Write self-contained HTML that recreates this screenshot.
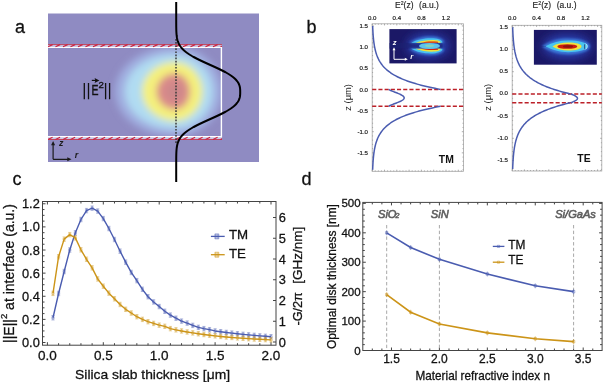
<!DOCTYPE html>
<html><head><meta charset="utf-8"><style>
html,body{margin:0;padding:0;background:#fff;width:603px;height:382px;overflow:hidden}
svg{display:block;will-change:transform}
text{font-family:"Liberation Sans", sans-serif}
text.k{stroke:#111;stroke-width:0.28px}
</style></head><body>
<svg width="603" height="382" viewBox="0 0 603 382">
<defs>
<clipPath id="clipHatch"><rect x="48" y="0" width="174" height="382"/></clipPath>
<clipPath id="clipA"><rect x="48" y="47.2" width="173.4" height="89.7"/></clipPath>
<clipPath id="clipTM"><rect x="389.4" y="29.1" width="67.2" height="34.3"/></clipPath>
<clipPath id="clipTE"><rect x="533.9" y="29.9" width="62.9" height="34.8"/></clipPath>
<filter id="blurA" x="-50%" y="-50%" width="200%" height="200%"><feGaussianBlur stdDeviation="3.5"/></filter>
<filter id="blur1" x="-50%" y="-50%" width="200%" height="200%"><feGaussianBlur stdDeviation="0.5"/></filter>
<filter id="blur4" x="-50%" y="-50%" width="200%" height="200%"><feGaussianBlur stdDeviation="0.75"/></filter>
<filter id="blur3" x="-50%" y="-50%" width="200%" height="200%"><feGaussianBlur stdDeviation="1.2"/></filter>
<filter id="blur2" x="-50%" y="-50%" width="200%" height="200%"><feGaussianBlur stdDeviation="5"/></filter>
</defs>
<rect width="603" height="382" fill="#fff"/>
<text class="k" x="15.0" y="32.8" font-size="18" fill="#111">a</text>
<text class="k" x="306.6" y="32.8" font-size="18" fill="#111">b</text>
<text class="k" x="12.4" y="184.7" font-size="18" fill="#111">c</text>
<text class="k" x="301.6" y="184.6" font-size="18" fill="#111">d</text>
<rect x="48" y="13.5" width="211" height="148.5" fill="#8f8bc2"/>
<g clip-path="url(#clipA)" filter="url(#blurA)"><path d="M175,46.5 A60,45 0 0 0 175,136.5 A47,45 0 0 0 175,46.5 Z" fill="#a0aee0"/><path d="M175,54.0 A50,37.5 0 0 0 175,129.0 A38,37.5 0 0 0 175,54.0 Z" fill="#b0dcf2"/><path d="M175,62.0 A33,29.5 0 0 0 175,121.0 A27.5,29.5 0 0 0 175,62.0 Z" fill="#f4f07c"/><path d="M175,73.5 A18.5,18 0 0 0 175,109.5 A15,18 0 0 0 175,73.5 Z" fill="#da8a8a"/><path d="M175,82.5 A9,9 0 0 0 175,100.5 A8,9 0 0 0 175,82.5 Z" fill="#cc888a"/></g>
<path d="M48,47.4 H221.4 V136.7 H48" fill="none" stroke="#fff" stroke-width="1.4"/>
<rect x="48" y="44.60" width="174" height="2.20" fill="#dfe2f4" opacity="0.7"/>
<line x1="48" y1="44.6" x2="222" y2="44.6" stroke="#c82c40" stroke-width="0.9" opacity="0.9"/>
<path d="M48.0,46.8 L52.6,44.6 M55.5,46.8 L60.1,44.6 M63.0,46.8 L67.6,44.6 M70.5,46.8 L75.1,44.6 M78.0,46.8 L82.6,44.6 M85.5,46.8 L90.1,44.6 M93.0,46.8 L97.6,44.6 M100.5,46.8 L105.1,44.6 M108.0,46.8 L112.6,44.6 M115.5,46.8 L120.1,44.6 M123.0,46.8 L127.6,44.6 M130.5,46.8 L135.1,44.6 M138.0,46.8 L142.6,44.6 M145.5,46.8 L150.1,44.6 M153.0,46.8 L157.6,44.6 M160.5,46.8 L165.1,44.6 M168.0,46.8 L172.6,44.6 M175.5,46.8 L180.1,44.6 M183.0,46.8 L187.6,44.6 M190.5,46.8 L195.1,44.6 M198.0,46.8 L202.6,44.6 M205.5,46.8 L210.1,44.6 M213.0,46.8 L217.6,44.6 M220.5,46.8 L225.1,44.6 " stroke="#cc2440" stroke-width="1.2" fill="none" clip-path="url(#clipHatch)"/>
<rect x="48" y="137.30" width="174" height="2.20" fill="#dfe2f4" opacity="0.7"/>
<line x1="48" y1="139.5" x2="222" y2="139.5" stroke="#c82c40" stroke-width="0.9" opacity="0.9"/>
<path d="M48.0,139.5 L52.6,137.3 M55.5,139.5 L60.1,137.3 M63.0,139.5 L67.6,137.3 M70.5,139.5 L75.1,137.3 M78.0,139.5 L82.6,137.3 M85.5,139.5 L90.1,137.3 M93.0,139.5 L97.6,137.3 M100.5,139.5 L105.1,137.3 M108.0,139.5 L112.6,137.3 M115.5,139.5 L120.1,137.3 M123.0,139.5 L127.6,137.3 M130.5,139.5 L135.1,137.3 M138.0,139.5 L142.6,137.3 M145.5,139.5 L150.1,137.3 M153.0,139.5 L157.6,137.3 M160.5,139.5 L165.1,137.3 M168.0,139.5 L172.6,137.3 M175.5,139.5 L180.1,137.3 M183.0,139.5 L187.6,137.3 M190.5,139.5 L195.1,137.3 M198.0,139.5 L202.6,137.3 M205.5,139.5 L210.1,137.3 M213.0,139.5 L217.6,137.3 M220.5,139.5 L225.1,137.3 " stroke="#cc2440" stroke-width="1.2" fill="none" clip-path="url(#clipHatch)"/>
<line x1="176" y1="39" x2="176" y2="144" stroke="#3a3a3a" stroke-width="1.5" stroke-dasharray="1.7,1.4"/>
<path d="M176.20,2.00 L176.20,3.00 L176.20,4.00 L176.20,5.00 L176.20,6.00 L176.20,7.00 L176.20,8.00 L176.20,9.00 L176.20,10.00 L176.20,11.00 L176.20,12.00 L176.20,13.00 L176.20,14.00 L176.20,15.00 L176.20,16.00 L176.20,17.00 L176.20,18.00 L176.20,19.00 L176.20,20.00 L176.21,21.00 L176.21,22.00 L176.21,23.00 L176.22,24.00 L176.22,25.00 L176.23,26.00 L176.24,27.00 L176.26,28.00 L176.28,29.00 L176.30,30.00 L176.34,31.00 L176.38,32.00 L176.44,33.00 L176.51,34.00 L176.60,35.00 L176.71,36.00 L176.85,37.00 L177.01,38.00 L177.22,39.00 L177.46,40.00 L177.75,41.00 L178.09,42.00 L178.50,43.00 L178.97,44.00 L179.52,45.00 L180.14,46.00 L180.86,47.00 L181.66,48.00 L182.57,49.00 L183.58,50.00 L184.70,51.00 L185.92,52.00 L187.26,53.00 L188.71,54.00 L190.27,55.00 L191.94,56.00 L193.70,57.00 L195.56,58.00 L197.51,59.00 L199.54,60.00 L201.63,61.00 L203.77,62.00 L205.96,63.00 L208.17,64.00 L210.39,65.00 L212.61,66.00 L214.81,67.00 L216.98,68.00 L219.09,69.00 L221.15,70.00 L223.13,71.00 L225.03,72.00 L226.83,73.00 L228.52,74.00 L230.11,75.00 L231.57,76.00 L232.91,77.00 L234.13,78.00 L235.22,79.00 L236.19,80.00 L237.03,81.00 L237.76,82.00 L238.38,83.00 L238.88,84.00 L239.29,85.00 L239.61,86.00 L239.84,87.00 L240.01,88.00 L240.11,89.00 L240.17,90.00 L240.20,91.00 L240.20,92.00 L240.20,93.00 L240.17,94.00 L240.11,95.00 L240.01,96.00 L239.84,97.00 L239.61,98.00 L239.29,99.00 L238.88,100.00 L238.38,101.00 L237.76,102.00 L237.03,103.00 L236.19,104.00 L235.22,105.00 L234.13,106.00 L232.91,107.00 L231.57,108.00 L230.11,109.00 L228.52,110.00 L226.83,111.00 L225.03,112.00 L223.13,113.00 L221.15,114.00 L219.09,115.00 L216.98,116.00 L214.81,117.00 L212.61,118.00 L210.39,119.00 L208.17,120.00 L205.96,121.00 L203.77,122.00 L201.63,123.00 L199.54,124.00 L197.51,125.00 L195.56,126.00 L193.70,127.00 L191.94,128.00 L190.27,129.00 L188.71,130.00 L187.26,131.00 L185.92,132.00 L184.70,133.00 L183.58,134.00 L182.57,135.00 L181.66,136.00 L180.86,137.00 L180.14,138.00 L179.52,139.00 L178.97,140.00 L178.50,141.00 L178.09,142.00 L177.75,143.00 L177.46,144.00 L177.22,145.00 L177.01,146.00 L176.85,147.00 L176.71,148.00 L176.60,149.00 L176.51,150.00 L176.44,151.00 L176.38,152.00 L176.34,153.00 L176.30,154.00 L176.28,155.00 L176.26,156.00 L176.24,157.00 L176.23,158.00 L176.22,159.00 L176.22,160.00 L176.21,161.00 L176.21,162.00 L176.21,163.00 L176.20,164.00 L176.20,165.00 L176.20,166.00 L176.20,167.00 L176.20,168.00 L176.20,169.00 L176.20,170.00 L176.20,171.00 L176.20,172.00 L176.20,173.00 L176.20,174.00 L176.20,175.00 L176.20,176.00 L176.20,177.00 L176.20,178.00 L176.20,179.00 L176.20,180.00 L176.20,181.00 L176.20,182.00" fill="none" stroke="#000" stroke-width="2"/>
<path d="M84.3,82.9 V99.2 M88.5,82.9 V99.2 M105.6,82.9 V99.2 M109.6,82.9 V99.2" stroke="#111" stroke-width="1.3"/>
<text x="91.4" y="95.1" font-size="14.8" textLength="7" lengthAdjust="spacingAndGlyphs" fill="#111" stroke="#111" stroke-width="0.45">E</text>
<text x="98.5" y="87.8" font-size="9.6" fill="#111" stroke="#111" stroke-width="0.35">2</text>
<path d="M91.8,80.4 H96" stroke="#111" stroke-width="1.2"/><path d="M99.4,80.4 L94.6,77.9 L95.4,80.4 L94.6,82.9 Z" fill="#111"/>
<path d="M53.1,159.3 V143.5 M53.1,159.3 H68.5" stroke="#1a1a1a" stroke-width="1.2" fill="none"/>
<path d="M53.1,141.0 L51.1,145.2 L55.1,145.2 Z M71.5,159.3 L67.3,157.3 L67.3,161.3 Z" fill="#1a1a1a"/>
<text x="58.9" y="146.2" font-size="8.8" font-style="italic" font-weight="bold" fill="#1a1a1a">z</text>
<text x="74.8" y="157.9" font-size="8.8" font-style="italic" font-weight="bold" fill="#1a1a1a">r</text>
<rect x="372.2" y="23.8" width="91.19999999999999" height="147.5" fill="none" stroke="#a4a4a4" stroke-width="0.8"/>
<path d="M372.20,23.8 v1.6 M372.20,171.3 v-1.6 M375.27,23.8 v0.9 M375.27,171.3 v-0.9 M378.35,23.8 v0.9 M378.35,171.3 v-0.9 M381.43,23.8 v0.9 M381.43,171.3 v-0.9 M384.50,23.8 v1.6 M384.50,171.3 v-1.6 M387.57,23.8 v0.9 M387.57,171.3 v-0.9 M390.65,23.8 v0.9 M390.65,171.3 v-0.9 M393.72,23.8 v0.9 M393.72,171.3 v-0.9 M396.80,23.8 v1.6 M396.80,171.3 v-1.6 M399.88,23.8 v0.9 M399.88,171.3 v-0.9 M402.95,23.8 v0.9 M402.95,171.3 v-0.9 M406.02,23.8 v0.9 M406.02,171.3 v-0.9 M409.10,23.8 v1.6 M409.10,171.3 v-1.6 M412.18,23.8 v0.9 M412.18,171.3 v-0.9 M415.25,23.8 v0.9 M415.25,171.3 v-0.9 M418.32,23.8 v0.9 M418.32,171.3 v-0.9 M421.40,23.8 v1.6 M421.40,171.3 v-1.6 M424.48,23.8 v0.9 M424.48,171.3 v-0.9 M427.55,23.8 v0.9 M427.55,171.3 v-0.9 M430.62,23.8 v0.9 M430.62,171.3 v-0.9 M433.70,23.8 v1.6 M433.70,171.3 v-1.6 M436.77,23.8 v0.9 M436.77,171.3 v-0.9 M439.85,23.8 v0.9 M439.85,171.3 v-0.9 M442.93,23.8 v0.9 M442.93,171.3 v-0.9 M446.00,23.8 v1.6 M446.00,171.3 v-1.6 M449.08,23.8 v0.9 M449.08,171.3 v-0.9 M452.15,23.8 v0.9 M452.15,171.3 v-0.9 M455.23,23.8 v0.9 M455.23,171.3 v-0.9 M458.30,23.8 v1.6 M458.30,171.3 v-1.6 M461.38,23.8 v0.9 M461.38,171.3 v-0.9 M372.2,169.77 h0.9 M463.4,169.77 h-0.9 M372.2,165.54 h0.9 M463.4,165.54 h-0.9 M372.2,161.31 h0.9 M463.4,161.31 h-0.9 M372.2,157.08 h0.9 M463.4,157.08 h-0.9 M372.2,152.85 h1.6 M463.4,152.85 h-1.6 M372.2,148.62 h0.9 M463.4,148.62 h-0.9 M372.2,144.39 h0.9 M463.4,144.39 h-0.9 M372.2,140.16 h0.9 M463.4,140.16 h-0.9 M372.2,135.93 h0.9 M463.4,135.93 h-0.9 M372.2,131.70 h1.6 M463.4,131.70 h-1.6 M372.2,127.47 h0.9 M463.4,127.47 h-0.9 M372.2,123.24 h0.9 M463.4,123.24 h-0.9 M372.2,119.01 h0.9 M463.4,119.01 h-0.9 M372.2,114.78 h0.9 M463.4,114.78 h-0.9 M372.2,110.55 h1.6 M463.4,110.55 h-1.6 M372.2,106.32 h0.9 M463.4,106.32 h-0.9 M372.2,102.09 h0.9 M463.4,102.09 h-0.9 M372.2,97.86 h0.9 M463.4,97.86 h-0.9 M372.2,93.63 h0.9 M463.4,93.63 h-0.9 M372.2,89.40 h1.6 M463.4,89.40 h-1.6 M372.2,85.17 h0.9 M463.4,85.17 h-0.9 M372.2,80.94 h0.9 M463.4,80.94 h-0.9 M372.2,76.71 h0.9 M463.4,76.71 h-0.9 M372.2,72.48 h0.9 M463.4,72.48 h-0.9 M372.2,68.25 h1.6 M463.4,68.25 h-1.6 M372.2,64.02 h0.9 M463.4,64.02 h-0.9 M372.2,59.79 h0.9 M463.4,59.79 h-0.9 M372.2,55.56 h0.9 M463.4,55.56 h-0.9 M372.2,51.33 h0.9 M463.4,51.33 h-0.9 M372.2,47.10 h1.6 M463.4,47.10 h-1.6 M372.2,42.87 h0.9 M463.4,42.87 h-0.9 M372.2,38.64 h0.9 M463.4,38.64 h-0.9 M372.2,34.41 h0.9 M463.4,34.41 h-0.9 M372.2,30.18 h0.9 M463.4,30.18 h-0.9 M372.2,25.95 h1.6 M463.4,25.95 h-1.6 " stroke="#8a8a8a" stroke-width="0.7" fill="none"/>
<text x="372.20" y="19.9" font-size="6.1" text-anchor="middle" fill="#222" stroke="#222" stroke-width="0.2">0.0</text>
<text x="396.80" y="19.9" font-size="6.1" text-anchor="middle" fill="#222" stroke="#222" stroke-width="0.2">0.4</text>
<text x="421.40" y="19.9" font-size="6.1" text-anchor="middle" fill="#222" stroke="#222" stroke-width="0.2">0.8</text>
<text x="446.00" y="19.9" font-size="6.1" text-anchor="middle" fill="#222" stroke="#222" stroke-width="0.2">1.2</text>
<text x="368.00" y="28.15" font-size="6.1" text-anchor="end" fill="#222" stroke="#222" stroke-width="0.2">1.5</text>
<text x="368.00" y="49.30" font-size="6.1" text-anchor="end" fill="#222" stroke="#222" stroke-width="0.2">1.0</text>
<text x="368.00" y="70.45" font-size="6.1" text-anchor="end" fill="#222" stroke="#222" stroke-width="0.2">0.5</text>
<text x="368.00" y="91.60" font-size="6.1" text-anchor="end" fill="#222" stroke="#222" stroke-width="0.2">0.0</text>
<text x="368.00" y="112.75" font-size="6.1" text-anchor="end" fill="#222" stroke="#222" stroke-width="0.2">-0.5</text>
<text x="368.00" y="133.90" font-size="6.1" text-anchor="end" fill="#222" stroke="#222" stroke-width="0.2">-1.0</text>
<text x="368.00" y="155.05" font-size="6.1" text-anchor="end" fill="#222" stroke="#222" stroke-width="0.2">-1.5</text>
<text x="395.0" y="8.0" font-size="8.5" fill="#222" stroke="#222" stroke-width="0.15">E<tspan font-size="5.2" dy="-3.3">2</tspan><tspan dy="3.3">(z)</tspan><tspan dx="5.6">(a.u.)</tspan></text>
<text transform="translate(347.8,97.4) rotate(-90)" x="0" y="3.2" font-size="9.4" text-anchor="middle" fill="#222">z (μm)</text>
<g>
<rect x="389.4" y="29.1" width="67.2" height="34.3" fill="#1b1866"/>
<g clip-path="url(#clipTM)">
<ellipse cx="428" cy="45.8" rx="21" ry="12" fill="#2c40b0" filter="url(#blur2)"/>
<rect x="380" y="43" width="62.5" height="5.6" fill="#1c2272" opacity="0.6" filter="url(#blur1)"/>
<g filter="url(#blur1)">
<path d="M409,42.8 C416,37.5 426,36.0 433,36.5 C440,37.0 445,40.0 444,42.8 Z" fill="#3a78d8" filter="url(#blur3)"/>
<path d="M411.3,42.8 C417,39.2 426,37.8 433,38.2 C439,38.6 443,40.5 442.3,42.8 Z" fill="#48c4f0"/>
<path d="M415.5,42.8 C421,40.6 428,39.8 434,40.0 C438.5,40.3 440.8,41.3 440.6,42.8 Z" fill="#f0e23c"/>
<path d="M420.7,42.8 C426,41.4 432,41.2 437.8,41.8 L438.2,42.8 Z" fill="#d42010"/>
<path d="M409,48.8 C416,54.1 426,55.6 433,55.1 C440,54.6 445,51.6 444,48.8 Z" fill="#3a78d8" filter="url(#blur3)"/>
<path d="M411.3,48.8 C417,52.4 426,53.8 433,53.4 C439,53.0 443,51.1 442.3,48.8 Z" fill="#48c4f0"/>
<path d="M415.5,48.8 C421,51.0 428,51.8 434,51.6 C438.5,51.3 440.8,50.3 440.6,48.8 Z" fill="#f0e23c"/>
<path d="M420.7,48.8 C426,50.2 432,50.4 437.8,49.8 L438.2,48.8 Z" fill="#d42010"/>
<ellipse cx="429.5" cy="45.9" rx="10.5" ry="3.0" fill="#5cc4ec"/>
<ellipse cx="429.5" cy="45.8" rx="4.5" ry="1.4" fill="#88d4b8"/>
</g></g>
<text x="392.8" y="44.6" font-size="7.6" font-style="italic" font-weight="bold" fill="#fff">z</text>
<path d="M394,59.3 V49.2 M394,59.3 H405.6" stroke="#fff" stroke-width="1" fill="none"/>
<path d="M394,47.2 L392.5,50.2 L395.5,50.2 Z M407.8,59.3 L404.8,57.8 L404.8,60.8 Z" fill="#fff"/>
<text x="410.2" y="59.2" font-size="7.6" font-style="italic" font-weight="bold" fill="#fff">r</text>
</g>
<line x1="372.2" y1="89.40" x2="463.4" y2="89.40" stroke="#bc2028" stroke-width="1.5" stroke-dasharray="4.1,2.1"/>
<line x1="372.2" y1="106.32" x2="463.4" y2="106.32" stroke="#bc2028" stroke-width="1.5" stroke-dasharray="4.1,2.1"/>
<path d="M372.66,25.95 L372.68,26.48 L372.70,27.01 L372.72,27.54 L372.74,28.07 L372.77,28.59 L372.79,29.12 L372.82,29.65 L372.84,30.18 L372.87,30.71 L372.90,31.24 L372.93,31.77 L372.96,32.30 L372.99,32.82 L373.02,33.35 L373.06,33.88 L373.10,34.41 L373.13,34.94 L373.17,35.47 L373.22,36.00 L373.26,36.53 L373.30,37.05 L373.35,37.58 L373.40,38.11 L373.45,38.64 L373.50,39.17 L373.56,39.70 L373.62,40.23 L373.68,40.76 L373.74,41.28 L373.81,41.81 L373.87,42.34 L373.94,42.87 L374.02,43.40 L374.10,43.93 L374.18,44.46 L374.26,44.99 L374.35,45.51 L374.44,46.04 L374.54,46.57 L374.64,47.10 L374.74,47.63 L374.85,48.16 L374.96,48.69 L375.08,49.22 L375.20,49.74 L375.33,50.27 L375.46,50.80 L375.60,51.33 L375.74,51.86 L375.89,52.39 L376.05,52.92 L376.22,53.45 L376.39,53.97 L376.56,54.50 L376.75,55.03 L376.94,55.56 L377.15,56.09 L377.36,56.62 L377.57,57.15 L377.80,57.68 L378.04,58.20 L378.29,58.73 L378.55,59.26 L378.82,59.79 L379.10,60.32 L379.40,60.85 L379.70,61.38 L380.02,61.91 L380.35,62.43 L380.70,62.96 L381.06,63.49 L381.44,64.02 L381.83,64.55 L382.24,65.08 L382.67,65.61 L383.11,66.14 L383.58,66.66 L384.06,67.19 L384.57,67.72 L385.09,68.25 L385.64,68.78 L386.21,69.31 L386.81,69.84 L387.43,70.37 L388.08,70.89 L388.76,71.42 L389.46,71.95 L390.19,72.48 L390.96,73.01 L391.76,73.54 L392.59,74.07 L393.46,74.59 L394.36,75.12 L395.31,75.65 L396.29,76.18 L397.31,76.71 L398.38,77.24 L399.50,77.77 L400.66,78.30 L401.87,78.83 L403.13,79.35 L404.45,79.88 L405.82,80.41 L407.25,80.94 L408.74,81.47 L410.29,82.00 L411.92,82.53 L413.60,83.06 L415.37,83.58 L417.20,84.11 L419.12,84.64 L421.11,85.17 L423.20,85.70 L425.36,86.23 L427.63,86.76 L429.99,87.29 L432.44,87.81 L435.01,88.34 L437.68,88.87 L440.46,89.40" fill="none" stroke="#4a5cb0" stroke-width="1.5"/>
<path d="M388.81,89.40 L389.14,89.68 L389.62,89.96 L390.18,90.25 L390.80,90.53 L391.46,90.81 L392.15,91.09 L392.85,91.37 L393.58,91.66 L394.31,91.94 L395.05,92.22 L395.78,92.50 L396.51,92.78 L397.23,93.07 L397.92,93.35 L398.60,93.63 L399.26,93.91 L399.88,94.19 L400.48,94.48 L401.04,94.76 L401.56,95.04 L402.04,95.32 L402.47,95.60 L402.87,95.89 L403.21,96.17 L403.50,96.45 L403.74,96.73 L403.93,97.01 L404.07,97.30 L404.15,97.58 L404.18,97.86 L404.15,98.14 L404.07,98.42 L403.93,98.71 L403.74,98.99 L403.50,99.27 L403.21,99.55 L402.87,99.83 L402.47,100.12 L402.04,100.40 L401.56,100.68 L401.04,100.96 L400.48,101.24 L399.88,101.53 L399.26,101.81 L398.60,102.09 L397.92,102.37 L397.23,102.65 L396.51,102.94 L395.78,103.22 L395.05,103.50 L394.31,103.78 L393.58,104.06 L392.85,104.35 L392.15,104.63 L391.46,104.91 L390.80,105.19 L390.18,105.47 L389.62,105.76 L389.14,106.04 L388.81,106.32" fill="none" stroke="#4a5cb0" stroke-width="1.5"/>
<path d="M440.46,106.32 L437.68,106.85 L435.01,107.38 L432.44,107.91 L429.99,108.44 L427.63,108.96 L425.36,109.49 L423.20,110.02 L421.11,110.55 L419.12,111.08 L417.20,111.61 L415.37,112.14 L413.60,112.67 L411.92,113.19 L410.29,113.72 L408.74,114.25 L407.25,114.78 L405.82,115.31 L404.45,115.84 L403.13,116.37 L401.87,116.90 L400.66,117.42 L399.50,117.95 L398.38,118.48 L397.31,119.01 L396.29,119.54 L395.31,120.07 L394.36,120.60 L393.46,121.12 L392.59,121.65 L391.76,122.18 L390.96,122.71 L390.19,123.24 L389.46,123.77 L388.76,124.30 L388.08,124.83 L387.43,125.36 L386.81,125.88 L386.21,126.41 L385.64,126.94 L385.09,127.47 L384.57,128.00 L384.06,128.53 L383.58,129.06 L383.11,129.59 L382.67,130.11 L382.24,130.64 L381.83,131.17 L381.44,131.70 L381.06,132.23 L380.70,132.76 L380.35,133.29 L380.02,133.81 L379.70,134.34 L379.40,134.87 L379.10,135.40 L378.82,135.93 L378.55,136.46 L378.29,136.99 L378.04,137.52 L377.80,138.05 L377.57,138.57 L377.36,139.10 L377.15,139.63 L376.94,140.16 L376.75,140.69 L376.56,141.22 L376.39,141.75 L376.22,142.28 L376.05,142.80 L375.89,143.33 L375.74,143.86 L375.60,144.39 L375.46,144.92 L375.33,145.45 L375.20,145.98 L375.08,146.50 L374.96,147.03 L374.85,147.56 L374.74,148.09 L374.64,148.62 L374.54,149.15 L374.44,149.68 L374.35,150.21 L374.26,150.74 L374.18,151.26 L374.10,151.79 L374.02,152.32 L373.94,152.85 L373.87,153.38 L373.81,153.91 L373.74,154.44 L373.68,154.96 L373.62,155.49 L373.56,156.02 L373.50,156.55 L373.45,157.08 L373.40,157.61 L373.35,158.14 L373.30,158.67 L373.26,159.19 L373.22,159.72 L373.17,160.25 L373.13,160.78 L373.10,161.31 L373.06,161.84 L373.02,162.37 L372.99,162.90 L372.96,163.43 L372.93,163.95 L372.90,164.48 L372.87,165.01 L372.84,165.54 L372.82,166.07 L372.79,166.60 L372.77,167.13 L372.74,167.66 L372.72,168.18 L372.70,168.71 L372.68,169.24 L372.66,169.77" fill="none" stroke="#4a5cb0" stroke-width="1.5"/>
<text x="446.3" y="162.8" font-size="10.4" font-weight="bold" text-anchor="middle" fill="#111">TM</text>
<rect x="512.2" y="25.3" width="89.59999999999991" height="145.7" fill="none" stroke="#a4a4a4" stroke-width="0.8"/>
<path d="M512.20,25.3 v1.6 M512.20,171.0 v-1.6 M515.25,25.3 v0.9 M515.25,171.0 v-0.9 M518.30,25.3 v0.9 M518.30,171.0 v-0.9 M521.35,25.3 v0.9 M521.35,171.0 v-0.9 M524.40,25.3 v1.6 M524.40,171.0 v-1.6 M527.45,25.3 v0.9 M527.45,171.0 v-0.9 M530.50,25.3 v0.9 M530.50,171.0 v-0.9 M533.55,25.3 v0.9 M533.55,171.0 v-0.9 M536.60,25.3 v1.6 M536.60,171.0 v-1.6 M539.65,25.3 v0.9 M539.65,171.0 v-0.9 M542.70,25.3 v0.9 M542.70,171.0 v-0.9 M545.75,25.3 v0.9 M545.75,171.0 v-0.9 M548.80,25.3 v1.6 M548.80,171.0 v-1.6 M551.85,25.3 v0.9 M551.85,171.0 v-0.9 M554.90,25.3 v0.9 M554.90,171.0 v-0.9 M557.95,25.3 v0.9 M557.95,171.0 v-0.9 M561.00,25.3 v1.6 M561.00,171.0 v-1.6 M564.05,25.3 v0.9 M564.05,171.0 v-0.9 M567.10,25.3 v0.9 M567.10,171.0 v-0.9 M570.15,25.3 v0.9 M570.15,171.0 v-0.9 M573.20,25.3 v1.6 M573.20,171.0 v-1.6 M576.25,25.3 v0.9 M576.25,171.0 v-0.9 M579.30,25.3 v0.9 M579.30,171.0 v-0.9 M582.35,25.3 v0.9 M582.35,171.0 v-0.9 M585.40,25.3 v1.6 M585.40,171.0 v-1.6 M588.45,25.3 v0.9 M588.45,171.0 v-0.9 M591.50,25.3 v0.9 M591.50,171.0 v-0.9 M594.55,25.3 v0.9 M594.55,171.0 v-0.9 M597.60,25.3 v1.6 M597.60,171.0 v-1.6 M600.65,25.3 v0.9 M600.65,171.0 v-0.9 M512.2,169.38 h0.9 M601.8,169.38 h-0.9 M512.2,164.94 h0.9 M601.8,164.94 h-0.9 M512.2,160.50 h1.6 M601.8,160.50 h-1.6 M512.2,156.06 h0.9 M601.8,156.06 h-0.9 M512.2,151.62 h0.9 M601.8,151.62 h-0.9 M512.2,147.18 h0.9 M601.8,147.18 h-0.9 M512.2,142.74 h0.9 M601.8,142.74 h-0.9 M512.2,138.30 h1.6 M601.8,138.30 h-1.6 M512.2,133.86 h0.9 M601.8,133.86 h-0.9 M512.2,129.42 h0.9 M601.8,129.42 h-0.9 M512.2,124.98 h0.9 M601.8,124.98 h-0.9 M512.2,120.54 h0.9 M601.8,120.54 h-0.9 M512.2,116.10 h1.6 M601.8,116.10 h-1.6 M512.2,111.66 h0.9 M601.8,111.66 h-0.9 M512.2,107.22 h0.9 M601.8,107.22 h-0.9 M512.2,102.78 h0.9 M601.8,102.78 h-0.9 M512.2,98.34 h0.9 M601.8,98.34 h-0.9 M512.2,93.90 h1.6 M601.8,93.90 h-1.6 M512.2,89.46 h0.9 M601.8,89.46 h-0.9 M512.2,85.02 h0.9 M601.8,85.02 h-0.9 M512.2,80.58 h0.9 M601.8,80.58 h-0.9 M512.2,76.14 h0.9 M601.8,76.14 h-0.9 M512.2,71.70 h1.6 M601.8,71.70 h-1.6 M512.2,67.26 h0.9 M601.8,67.26 h-0.9 M512.2,62.82 h0.9 M601.8,62.82 h-0.9 M512.2,58.38 h0.9 M601.8,58.38 h-0.9 M512.2,53.94 h0.9 M601.8,53.94 h-0.9 M512.2,49.50 h1.6 M601.8,49.50 h-1.6 M512.2,45.06 h0.9 M601.8,45.06 h-0.9 M512.2,40.62 h0.9 M601.8,40.62 h-0.9 M512.2,36.18 h0.9 M601.8,36.18 h-0.9 M512.2,31.74 h0.9 M601.8,31.74 h-0.9 M512.2,27.30 h1.6 M601.8,27.30 h-1.6 " stroke="#8a8a8a" stroke-width="0.7" fill="none"/>
<text x="512.20" y="19.9" font-size="6.1" text-anchor="middle" fill="#222" stroke="#222" stroke-width="0.2">0.0</text>
<text x="536.60" y="19.9" font-size="6.1" text-anchor="middle" fill="#222" stroke="#222" stroke-width="0.2">0.4</text>
<text x="561.00" y="19.9" font-size="6.1" text-anchor="middle" fill="#222" stroke="#222" stroke-width="0.2">0.8</text>
<text x="585.40" y="19.9" font-size="6.1" text-anchor="middle" fill="#222" stroke="#222" stroke-width="0.2">1.2</text>
<text x="508.00" y="28.80" font-size="6.1" text-anchor="end" fill="#222" stroke="#222" stroke-width="0.2">1.5</text>
<text x="508.00" y="51.00" font-size="6.1" text-anchor="end" fill="#222" stroke="#222" stroke-width="0.2">1.0</text>
<text x="508.00" y="73.20" font-size="6.1" text-anchor="end" fill="#222" stroke="#222" stroke-width="0.2">0.5</text>
<text x="508.00" y="95.40" font-size="6.1" text-anchor="end" fill="#222" stroke="#222" stroke-width="0.2">0.0</text>
<text x="508.00" y="117.60" font-size="6.1" text-anchor="end" fill="#222" stroke="#222" stroke-width="0.2">-0.5</text>
<text x="508.00" y="139.80" font-size="6.1" text-anchor="end" fill="#222" stroke="#222" stroke-width="0.2">-1.0</text>
<text x="508.00" y="162.00" font-size="6.1" text-anchor="end" fill="#222" stroke="#222" stroke-width="0.2">-1.5</text>
<text x="532.6" y="8.0" font-size="8.5" fill="#222" stroke="#222" stroke-width="0.15">E<tspan font-size="5.2" dy="-3.3">2</tspan><tspan dy="3.3">(z)</tspan><tspan dx="5.6">(a.u.)</tspan></text>
<text transform="translate(488.0,97.3) rotate(-90)" x="0" y="3.2" font-size="9.4" text-anchor="middle" fill="#222">z (μm)</text>
<g>
<rect x="533.9" y="29.9" width="62.9" height="34.8" fill="#1b1866"/>
<g clip-path="url(#clipTE)">
<ellipse cx="567" cy="46.4" rx="24" ry="12" fill="#2c40b0" filter="url(#blur2)"/>
<path d="M542,46.3 C550,40 560,38.4 568,38.4 C580,38.4 590,41.5 590,46.3 C590,51 580,54.4 568,54.4 C560,54.4 550,52.6 542,46.3 Z" fill="#3a78d8" filter="url(#blur3)"/>
<g filter="url(#blur4)">
<path d="M533.9,46.3 H546" stroke="#1a2070" stroke-width="0.6" opacity="0.6"/>
<path d="M545.6,46.3 C552,42.5 560,40.6 568,40.6 C578,40.6 587.6,42.5 587.6,46.3 C587.6,50 578,52.2 568,52.2 C560,52.2 552,50 545.6,46.3 Z" fill="#48c4f0"/>
<path d="M552.5,46.4 C556.5,43.6 562,42.5 568,42.5 C576,42.5 581.5,44.2 581.5,46.4 C581.5,48.8 576,50.5 568,50.5 C562,50.5 556.5,49.2 552.5,46.4 Z" fill="#f0e23c"/>
<ellipse cx="567.3" cy="46.5" rx="10" ry="2.3" fill="#cc1a10"/>
<ellipse cx="568" cy="46.5" rx="5" ry="1.2" fill="#8a1410"/>
<path d="M585.6,43.6 C587.6,44.5 587.6,48.3 585.6,49.2" stroke="#d0f0ff" stroke-width="0.9" fill="none"/><path d="M584.6,44.3 V48.9" stroke="#303068" stroke-width="0.8"/>
</g></g></g>
<line x1="512.2" y1="93.90" x2="601.8" y2="93.90" stroke="#bc2028" stroke-width="1.5" stroke-dasharray="4.1,2.1"/>
<line x1="512.2" y1="102.78" x2="601.8" y2="102.78" stroke="#bc2028" stroke-width="1.5" stroke-dasharray="4.1,2.1"/>
<path d="M512.66,27.30 L512.68,27.86 L512.70,28.41 L512.72,28.97 L512.74,29.52 L512.76,30.08 L512.78,30.63 L512.81,31.19 L512.83,31.74 L512.86,32.30 L512.89,32.85 L512.91,33.41 L512.94,33.96 L512.97,34.52 L513.01,35.07 L513.04,35.63 L513.07,36.18 L513.11,36.74 L513.15,37.29 L513.19,37.85 L513.23,38.40 L513.27,38.96 L513.31,39.51 L513.36,40.07 L513.41,40.62 L513.46,41.18 L513.51,41.73 L513.56,42.29 L513.62,42.84 L513.68,43.40 L513.74,43.95 L513.80,44.51 L513.87,45.06 L513.94,45.62 L514.01,46.17 L514.08,46.73 L514.16,47.28 L514.24,47.84 L514.32,48.39 L514.41,48.95 L514.50,49.50 L514.60,50.06 L514.70,50.61 L514.80,51.17 L514.90,51.72 L515.02,52.28 L515.13,52.83 L515.25,53.39 L515.38,53.94 L515.51,54.50 L515.65,55.05 L515.79,55.61 L515.93,56.16 L516.09,56.72 L516.25,57.27 L516.41,57.83 L516.59,58.38 L516.77,58.94 L516.96,59.49 L517.15,60.05 L517.36,60.60 L517.57,61.16 L517.79,61.71 L518.02,62.27 L518.26,62.82 L518.51,63.38 L518.77,63.93 L519.04,64.49 L519.32,65.04 L519.61,65.60 L519.92,66.15 L520.23,66.71 L520.57,67.26 L520.91,67.81 L521.27,68.37 L521.64,68.93 L522.03,69.48 L522.43,70.04 L522.86,70.59 L523.29,71.15 L523.75,71.70 L524.23,72.26 L524.72,72.81 L525.24,73.37 L525.77,73.92 L526.33,74.48 L526.91,75.03 L527.52,75.59 L528.15,76.14 L528.80,76.70 L529.49,77.25 L530.20,77.81 L530.94,78.36 L531.71,78.92 L532.51,79.47 L533.35,80.03 L534.22,80.58 L535.12,81.14 L536.07,81.69 L537.05,82.25 L538.07,82.80 L539.14,83.36 L540.24,83.91 L541.40,84.47 L542.60,85.02 L543.85,85.58 L545.15,86.13 L546.51,86.69 L547.92,87.24 L549.39,87.80 L550.92,88.35 L552.51,88.91 L554.17,89.46 L555.90,90.02 L557.70,90.57 L559.57,91.12 L561.52,91.68 L563.55,92.23 L565.66,92.79 L567.86,93.35 L570.15,93.90" fill="none" stroke="#4a5cb0" stroke-width="1.5"/>
<path d="M570.72,93.90 L571.45,94.20 L572.16,94.49 L572.84,94.79 L573.51,95.08 L574.14,95.38 L574.73,95.68 L575.27,95.97 L575.77,96.27 L576.20,96.56 L576.58,96.86 L576.90,97.16 L577.15,97.45 L577.33,97.75 L577.43,98.04 L577.47,98.34 L577.43,98.64 L577.33,98.93 L577.15,99.23 L576.90,99.52 L576.58,99.82 L576.20,100.12 L575.77,100.41 L575.27,100.71 L574.73,101.00 L574.14,101.30 L573.51,101.60 L572.84,101.89 L572.16,102.19 L571.45,102.48 L570.72,102.78" fill="none" stroke="#4a5cb0" stroke-width="1.5"/>
<path d="M570.15,102.78 L567.87,103.33 L565.69,103.88 L563.59,104.43 L561.57,104.99 L559.63,105.54 L557.77,106.09 L555.98,106.64 L554.26,107.19 L552.61,107.74 L551.02,108.29 L549.50,108.84 L548.04,109.40 L546.63,109.95 L545.28,110.50 L543.98,111.05 L542.73,111.60 L541.53,112.15 L540.38,112.70 L539.27,113.25 L538.21,113.81 L537.19,114.36 L536.21,114.91 L535.27,115.46 L534.36,116.01 L533.49,116.56 L532.65,117.11 L531.85,117.67 L531.08,118.22 L530.34,118.77 L529.63,119.32 L528.94,119.87 L528.28,120.42 L527.65,120.97 L527.05,121.52 L526.46,122.08 L525.90,122.63 L525.37,123.18 L524.85,123.73 L524.35,124.28 L523.87,124.83 L523.42,125.38 L522.98,125.93 L522.55,126.49 L522.15,127.04 L521.76,127.59 L521.38,128.14 L521.02,128.69 L520.67,129.24 L520.34,129.79 L520.02,130.34 L519.71,130.90 L519.42,131.45 L519.14,132.00 L518.86,132.55 L518.60,133.10 L518.35,133.65 L518.11,134.20 L517.88,134.76 L517.65,135.31 L517.44,135.86 L517.23,136.41 L517.04,136.96 L516.85,137.51 L516.66,138.06 L516.49,138.61 L516.32,139.17 L516.16,139.72 L516.00,140.27 L515.85,140.82 L515.71,141.37 L515.57,141.92 L515.44,142.47 L515.31,143.02 L515.19,143.58 L515.07,144.13 L514.96,144.68 L514.85,145.23 L514.75,145.78 L514.65,146.33 L514.55,146.88 L514.46,147.44 L514.37,147.99 L514.29,148.54 L514.20,149.09 L514.13,149.64 L514.05,150.19 L513.98,150.74 L513.91,151.29 L513.84,151.85 L513.78,152.40 L513.71,152.95 L513.65,153.50 L513.60,154.05 L513.54,154.60 L513.49,155.15 L513.44,155.70 L513.39,156.26 L513.34,156.81 L513.30,157.36 L513.26,157.91 L513.21,158.46 L513.17,159.01 L513.14,159.56 L513.10,160.12 L513.06,160.67 L513.03,161.22 L513.00,161.77 L512.97,162.32 L512.94,162.87 L512.91,163.42 L512.88,163.97 L512.85,164.53 L512.83,165.08 L512.80,165.63 L512.78,166.18 L512.76,166.73 L512.73,167.28 L512.71,167.83 L512.69,168.38 L512.67,168.94" fill="none" stroke="#4a5cb0" stroke-width="1.5"/>
<text x="584.0" y="162.4" font-size="10.4" font-weight="bold" text-anchor="middle" fill="#111">TE</text>
<rect x="42.5" y="201.5" width="233.5" height="143.7" fill="none" stroke="#444" stroke-width="1"/>
<path d="M47.40,345.2 v-3 M47.40,201.5 v3 M58.58,345.2 v-2 M58.58,201.5 v2 M69.76,345.2 v-2 M69.76,201.5 v2 M80.94,345.2 v-2 M80.94,201.5 v2 M92.12,345.2 v-2 M92.12,201.5 v2 M103.30,345.2 v-3 M103.30,201.5 v3 M114.48,345.2 v-2 M114.48,201.5 v2 M125.66,345.2 v-2 M125.66,201.5 v2 M136.84,345.2 v-2 M136.84,201.5 v2 M148.02,345.2 v-2 M148.02,201.5 v2 M159.20,345.2 v-3 M159.20,201.5 v3 M170.38,345.2 v-2 M170.38,201.5 v2 M181.56,345.2 v-2 M181.56,201.5 v2 M192.74,345.2 v-2 M192.74,201.5 v2 M203.92,345.2 v-2 M203.92,201.5 v2 M215.10,345.2 v-3 M215.10,201.5 v3 M226.28,345.2 v-2 M226.28,201.5 v2 M237.46,345.2 v-2 M237.46,201.5 v2 M248.64,345.2 v-2 M248.64,201.5 v2 M259.82,345.2 v-2 M259.82,201.5 v2 M271.00,345.2 v-3 M271.00,201.5 v3 M42.5,342.50 h3 M42.5,336.72 h2 M42.5,330.94 h2 M42.5,325.16 h2 M42.5,319.38 h3 M42.5,313.60 h2 M42.5,307.82 h2 M42.5,302.04 h2 M42.5,296.26 h3 M42.5,290.48 h2 M42.5,284.70 h2 M42.5,278.92 h2 M42.5,273.14 h3 M42.5,267.36 h2 M42.5,261.58 h2 M42.5,255.80 h2 M42.5,250.02 h3 M42.5,244.24 h2 M42.5,238.46 h2 M42.5,232.68 h2 M42.5,226.90 h3 M42.5,221.12 h2 M42.5,215.34 h2 M42.5,209.56 h2 M42.5,203.78 h3 M276.0,342.00 h-3 M276.0,321.25 h-3 M276.0,300.50 h-3 M276.0,279.75 h-3 M276.0,259.00 h-3 M276.0,238.25 h-3 M276.0,217.50 h-3 " stroke="#444" stroke-width="1" fill="none"/>
<text class="k" x="39.8" y="347.00" font-size="12.8" text-anchor="end" fill="#111">0.0</text>
<text class="k" x="39.8" y="323.88" font-size="12.8" text-anchor="end" fill="#111">0.2</text>
<text class="k" x="39.8" y="300.76" font-size="12.8" text-anchor="end" fill="#111">0.4</text>
<text class="k" x="39.8" y="277.64" font-size="12.8" text-anchor="end" fill="#111">0.6</text>
<text class="k" x="39.8" y="254.52" font-size="12.8" text-anchor="end" fill="#111">0.8</text>
<text class="k" x="39.8" y="231.40" font-size="12.8" text-anchor="end" fill="#111">1.0</text>
<text class="k" x="39.8" y="208.28" font-size="12.8" text-anchor="end" fill="#111">1.2</text>
<text class="k" x="47.40" y="359.9" font-size="13.5" text-anchor="middle" fill="#111">0.0</text>
<text class="k" x="103.30" y="359.9" font-size="13.5" text-anchor="middle" fill="#111">0.5</text>
<text class="k" x="159.20" y="359.9" font-size="13.5" text-anchor="middle" fill="#111">1.0</text>
<text class="k" x="215.10" y="359.9" font-size="13.5" text-anchor="middle" fill="#111">1.5</text>
<text class="k" x="271.00" y="359.9" font-size="13.5" text-anchor="middle" fill="#111">2.0</text>
<text class="k" x="282.3" y="346.50" font-size="12.8" text-anchor="middle" fill="#111">0</text>
<text class="k" x="282.3" y="325.75" font-size="12.8" text-anchor="middle" fill="#111">1</text>
<text class="k" x="282.3" y="305.00" font-size="12.8" text-anchor="middle" fill="#111">2</text>
<text class="k" x="282.3" y="284.25" font-size="12.8" text-anchor="middle" fill="#111">3</text>
<text class="k" x="282.3" y="263.50" font-size="12.8" text-anchor="middle" fill="#111">4</text>
<text class="k" x="282.3" y="242.75" font-size="12.8" text-anchor="middle" fill="#111">5</text>
<text class="k" x="282.3" y="222.00" font-size="12.8" text-anchor="middle" fill="#111">6</text>
<text class="k" x="75.1" y="378.7" font-size="13.6" textLength="155" lengthAdjust="spacingAndGlyphs" fill="#111">Silica slab thickness [μm]</text>
<text class="k" transform="translate(13.7,342.9) rotate(-90)" x="0" y="0" font-size="14" fill="#111">||E||<tspan font-size="9.4" dy="-6.5">2</tspan><tspan dy="6.5"> at interface (a.u.)</tspan></text>
<text class="k" transform="translate(301.8,325.6) rotate(-90)" x="0" y="0" font-size="13.5" textLength="33.5" lengthAdjust="spacingAndGlyphs" fill="#111">-G/2π</text>
<text class="k" transform="translate(301.8,283.8) rotate(-90)" x="0" y="0" font-size="13.5" fill="#111">[GHz/nm]</text>
<path d="M51.89,316.66 h2.2 v2.2 h-2.2 Z M52.99,315.56 v4.4 M51.39,315.56 h3.2 M51.39,319.96 h3.2 M57.48,292.39 h2.2 v2.2 h-2.2 Z M58.58,291.29 v4.4 M56.98,291.29 h3.2 M56.98,295.69 h3.2 M63.07,270.42 h2.2 v2.2 h-2.2 Z M64.17,269.32 v4.4 M62.57,269.32 h3.2 M62.57,273.72 h3.2 M68.66,248.92 h2.2 v2.2 h-2.2 Z M69.76,247.82 v4.4 M68.16,247.82 h3.2 M68.16,252.22 h3.2 M74.25,231.70 h2.2 v2.2 h-2.2 Z M75.35,230.60 v4.4 M73.75,230.60 h3.2 M73.75,235.00 h3.2 M79.84,218.40 h2.2 v2.2 h-2.2 Z M80.94,217.30 v4.4 M79.34,217.30 h3.2 M79.34,221.70 h3.2 M85.43,209.50 h2.2 v2.2 h-2.2 Z M86.53,208.40 v4.4 M84.93,208.40 h3.2 M84.93,212.80 h3.2 M91.02,207.07 h2.2 v2.2 h-2.2 Z M92.12,205.97 v4.4 M90.52,205.97 h3.2 M90.52,210.37 h3.2 M96.61,209.96 h2.2 v2.2 h-2.2 Z M97.71,208.86 v4.4 M96.11,208.86 h3.2 M96.11,213.26 h3.2 M102.20,217.48 h2.2 v2.2 h-2.2 Z M103.30,216.38 v4.4 M101.70,216.38 h3.2 M101.70,220.78 h3.2 M107.79,227.42 h2.2 v2.2 h-2.2 Z M108.89,226.32 v4.4 M107.29,226.32 h3.2 M107.29,230.72 h3.2 M113.38,238.40 h2.2 v2.2 h-2.2 Z M114.48,237.30 v4.4 M112.88,237.30 h3.2 M112.88,241.70 h3.2 M118.97,250.08 h2.2 v2.2 h-2.2 Z M120.07,248.98 v4.4 M118.47,248.98 h3.2 M118.47,253.38 h3.2 M124.56,261.06 h2.2 v2.2 h-2.2 Z M125.66,259.96 v4.4 M124.06,259.96 h3.2 M124.06,264.36 h3.2 M130.15,271.35 h2.2 v2.2 h-2.2 Z M131.25,270.25 v4.4 M129.65,270.25 h3.2 M129.65,274.65 h3.2 M135.74,279.55 h2.2 v2.2 h-2.2 Z M136.84,278.45 v4.4 M135.24,278.45 h3.2 M135.24,282.85 h3.2 M141.33,288.22 h2.2 v2.2 h-2.2 Z M142.43,287.12 v4.4 M140.83,287.12 h3.2 M140.83,291.52 h3.2 M146.92,295.62 h2.2 v2.2 h-2.2 Z M148.02,294.52 v4.4 M146.42,294.52 h3.2 M146.42,298.92 h3.2 M152.51,300.82 h2.2 v2.2 h-2.2 Z M153.61,299.72 v4.4 M152.01,299.72 h3.2 M152.01,304.12 h3.2 M158.10,305.45 h2.2 v2.2 h-2.2 Z M159.20,304.35 v4.4 M157.60,304.35 h3.2 M157.60,308.75 h3.2 M163.69,310.19 h2.2 v2.2 h-2.2 Z M164.79,309.09 v4.4 M163.19,309.09 h3.2 M163.19,313.49 h3.2 M169.28,314.00 h2.2 v2.2 h-2.2 Z M170.38,312.90 v4.4 M168.78,312.90 h3.2 M168.78,317.30 h3.2 M174.87,317.12 h2.2 v2.2 h-2.2 Z M175.97,316.02 v4.4 M174.37,316.02 h3.2 M174.37,320.42 h3.2 M180.46,320.01 h2.2 v2.2 h-2.2 Z M181.56,318.91 v4.4 M179.96,318.91 h3.2 M179.96,323.31 h3.2 M186.05,321.98 h2.2 v2.2 h-2.2 Z M187.15,320.88 v4.4 M185.55,320.88 h3.2 M185.55,325.28 h3.2 M191.64,324.29 h2.2 v2.2 h-2.2 Z M192.74,323.19 v4.4 M191.14,323.19 h3.2 M191.14,327.59 h3.2 M197.23,326.26 h2.2 v2.2 h-2.2 Z M198.33,325.16 v4.4 M196.73,325.16 h3.2 M196.73,329.56 h3.2 M202.82,327.53 h2.2 v2.2 h-2.2 Z M203.92,326.43 v4.4 M202.32,326.43 h3.2 M202.32,330.83 h3.2 M208.41,328.57 h2.2 v2.2 h-2.2 Z M209.51,327.47 v4.4 M207.91,327.47 h3.2 M207.91,331.87 h3.2 M214.00,329.84 h2.2 v2.2 h-2.2 Z M215.10,328.74 v4.4 M213.50,328.74 h3.2 M213.50,333.14 h3.2 M219.59,330.61 h2.2 v2.2 h-2.2 Z M220.69,329.51 v4.4 M219.09,329.51 h3.2 M219.09,333.91 h3.2 M225.18,331.34 h2.2 v2.2 h-2.2 Z M226.28,330.24 v4.4 M224.68,330.24 h3.2 M224.68,334.64 h3.2 M230.77,332.01 h2.2 v2.2 h-2.2 Z M231.87,330.91 v4.4 M230.27,330.91 h3.2 M230.27,335.31 h3.2 M236.36,332.64 h2.2 v2.2 h-2.2 Z M237.46,331.54 v4.4 M235.86,331.54 h3.2 M235.86,335.94 h3.2 M241.95,333.23 h2.2 v2.2 h-2.2 Z M243.05,332.13 v4.4 M241.45,332.13 h3.2 M241.45,336.53 h3.2 M247.54,333.77 h2.2 v2.2 h-2.2 Z M248.64,332.67 v4.4 M247.04,332.67 h3.2 M247.04,337.07 h3.2 M253.13,334.28 h2.2 v2.2 h-2.2 Z M254.23,333.18 v4.4 M252.63,333.18 h3.2 M252.63,337.58 h3.2 M258.72,334.76 h2.2 v2.2 h-2.2 Z M259.82,333.66 v4.4 M258.22,333.66 h3.2 M258.22,338.06 h3.2 M264.31,335.21 h2.2 v2.2 h-2.2 Z M265.41,334.11 v4.4 M263.81,334.11 h3.2 M263.81,338.51 h3.2 M269.90,335.62 h2.2 v2.2 h-2.2 Z M271.00,334.52 v4.4 M269.40,334.52 h3.2 M269.40,338.92 h3.2 " fill="none" stroke="#4a5cb0" stroke-width="0.8" opacity="0.55"/>
<path d="M52.99,317.76 L58.58,293.49 L64.17,271.52 L69.76,250.02 L75.35,232.80 L80.94,219.50 L86.53,210.60 L92.12,208.17 L97.71,211.06 L103.30,218.58 L108.89,228.52 L114.48,239.50 L120.07,251.18 L125.66,262.16 L131.25,272.45 L136.84,280.65 L142.43,289.32 L148.02,296.72 L153.61,301.92 L159.20,306.55 L164.79,311.29 L170.38,315.10 L175.97,318.22 L181.56,321.11 L187.15,323.08 L192.74,325.39 L198.33,327.36 L203.92,328.63 L209.51,329.67 L215.10,330.94 L220.69,331.71 L226.28,332.44 L231.87,333.11 L237.46,333.74 L243.05,334.33 L248.64,334.87 L254.23,335.38 L259.82,335.86 L265.41,336.31 L271.00,336.72" fill="none" stroke="#4a5cb0" stroke-width="1.4" stroke-linejoin="round"/>
<path d="M51.89,292.27 h2.2 v2.2 h-2.2 Z M52.99,291.17 v4.4 M51.39,291.17 h3.2 M51.39,295.57 h3.2 M57.48,255.62 h2.2 v2.2 h-2.2 Z M58.58,254.52 v4.4 M56.98,254.52 h3.2 M56.98,258.92 h3.2 M63.07,238.05 h2.2 v2.2 h-2.2 Z M64.17,236.95 v4.4 M62.57,236.95 h3.2 M62.57,241.35 h3.2 M68.66,233.55 h2.2 v2.2 h-2.2 Z M69.76,232.45 v4.4 M68.16,232.45 h3.2 M68.16,236.85 h3.2 M74.25,236.78 h2.2 v2.2 h-2.2 Z M75.35,235.68 v4.4 M73.75,235.68 h3.2 M73.75,240.08 h3.2 M79.84,248.69 h2.2 v2.2 h-2.2 Z M80.94,247.59 v4.4 M79.34,247.59 h3.2 M79.34,251.99 h3.2 M85.43,258.17 h2.2 v2.2 h-2.2 Z M86.53,257.07 v4.4 M84.93,257.07 h3.2 M84.93,261.47 h3.2 M91.02,266.72 h2.2 v2.2 h-2.2 Z M92.12,265.62 v4.4 M90.52,265.62 h3.2 M90.52,270.02 h3.2 M96.61,277.82 h2.2 v2.2 h-2.2 Z M97.71,276.72 v4.4 M96.11,276.72 h3.2 M96.11,281.12 h3.2 M102.20,285.10 h2.2 v2.2 h-2.2 Z M103.30,284.00 v4.4 M101.70,284.00 h3.2 M101.70,288.40 h3.2 M107.79,292.04 h2.2 v2.2 h-2.2 Z M108.89,290.94 v4.4 M107.29,290.94 h3.2 M107.29,295.34 h3.2 M113.38,297.70 h2.2 v2.2 h-2.2 Z M114.48,296.60 v4.4 M112.88,296.60 h3.2 M112.88,301.00 h3.2 M118.97,303.37 h2.2 v2.2 h-2.2 Z M120.07,302.27 v4.4 M118.47,302.27 h3.2 M118.47,306.67 h3.2 M124.56,308.22 h2.2 v2.2 h-2.2 Z M125.66,307.12 v4.4 M124.06,307.12 h3.2 M124.06,311.52 h3.2 M130.15,311.92 h2.2 v2.2 h-2.2 Z M131.25,310.82 v4.4 M129.65,310.82 h3.2 M129.65,315.22 h3.2 M135.74,315.62 h2.2 v2.2 h-2.2 Z M136.84,314.52 v4.4 M135.24,314.52 h3.2 M135.24,318.92 h3.2 M141.33,318.28 h2.2 v2.2 h-2.2 Z M142.43,317.18 v4.4 M140.83,317.18 h3.2 M140.83,321.58 h3.2 M146.92,320.59 h2.2 v2.2 h-2.2 Z M148.02,319.49 v4.4 M146.42,319.49 h3.2 M146.42,323.89 h3.2 M152.51,322.33 h2.2 v2.2 h-2.2 Z M153.61,321.23 v4.4 M152.01,321.23 h3.2 M152.01,325.63 h3.2 M158.10,324.06 h2.2 v2.2 h-2.2 Z M159.20,322.96 v4.4 M157.60,322.96 h3.2 M157.60,327.36 h3.2 M163.69,325.22 h2.2 v2.2 h-2.2 Z M164.79,324.12 v4.4 M163.19,324.12 h3.2 M163.19,328.52 h3.2 M169.28,327.53 h2.2 v2.2 h-2.2 Z M170.38,326.43 v4.4 M168.78,326.43 h3.2 M168.78,330.83 h3.2 M174.87,328.74 h2.2 v2.2 h-2.2 Z M175.97,327.64 v4.4 M174.37,327.64 h3.2 M174.37,332.04 h3.2 M180.46,329.85 h2.2 v2.2 h-2.2 Z M181.56,328.75 v4.4 M179.96,328.75 h3.2 M179.96,333.15 h3.2 M186.05,330.87 h2.2 v2.2 h-2.2 Z M187.15,329.77 v4.4 M185.55,329.77 h3.2 M185.55,334.17 h3.2 M191.64,331.79 h2.2 v2.2 h-2.2 Z M192.74,330.69 v4.4 M191.14,330.69 h3.2 M191.14,335.09 h3.2 M197.23,332.63 h2.2 v2.2 h-2.2 Z M198.33,331.53 v4.4 M196.73,331.53 h3.2 M196.73,335.93 h3.2 M202.82,333.40 h2.2 v2.2 h-2.2 Z M203.92,332.30 v4.4 M202.32,332.30 h3.2 M202.32,336.70 h3.2 M208.41,334.10 h2.2 v2.2 h-2.2 Z M209.51,333.00 v4.4 M207.91,333.00 h3.2 M207.91,337.40 h3.2 M214.00,334.74 h2.2 v2.2 h-2.2 Z M215.10,333.64 v4.4 M213.50,333.64 h3.2 M213.50,338.04 h3.2 M219.59,335.33 h2.2 v2.2 h-2.2 Z M220.69,334.23 v4.4 M219.09,334.23 h3.2 M219.09,338.63 h3.2 M225.18,335.86 h2.2 v2.2 h-2.2 Z M226.28,334.76 v4.4 M224.68,334.76 h3.2 M224.68,339.16 h3.2 M230.77,336.35 h2.2 v2.2 h-2.2 Z M231.87,335.25 v4.4 M230.27,335.25 h3.2 M230.27,339.65 h3.2 M236.36,336.79 h2.2 v2.2 h-2.2 Z M237.46,335.69 v4.4 M235.86,335.69 h3.2 M235.86,340.09 h3.2 M241.95,337.19 h2.2 v2.2 h-2.2 Z M243.05,336.09 v4.4 M241.45,336.09 h3.2 M241.45,340.49 h3.2 M247.54,337.56 h2.2 v2.2 h-2.2 Z M248.64,336.46 v4.4 M247.04,336.46 h3.2 M247.04,340.86 h3.2 M253.13,337.90 h2.2 v2.2 h-2.2 Z M254.23,336.80 v4.4 M252.63,336.80 h3.2 M252.63,341.20 h3.2 M258.72,338.21 h2.2 v2.2 h-2.2 Z M259.82,337.11 v4.4 M258.22,337.11 h3.2 M258.22,341.51 h3.2 M264.31,338.49 h2.2 v2.2 h-2.2 Z M265.41,337.39 v4.4 M263.81,337.39 h3.2 M263.81,341.79 h3.2 M269.90,338.74 h2.2 v2.2 h-2.2 Z M271.00,337.64 v4.4 M269.40,337.64 h3.2 M269.40,342.04 h3.2 " fill="none" stroke="#cc9418" stroke-width="0.8" opacity="0.55"/>
<path d="M52.99,293.37 L58.58,256.72 L64.17,239.15 L69.76,234.65 L75.35,237.88 L80.94,249.79 L86.53,259.27 L92.12,267.82 L97.71,278.92 L103.30,286.20 L108.89,293.14 L114.48,298.80 L120.07,304.47 L125.66,309.32 L131.25,313.02 L136.84,316.72 L142.43,319.38 L148.02,321.69 L153.61,323.43 L159.20,325.16 L164.79,326.32 L170.38,328.63 L175.97,329.84 L181.56,330.95 L187.15,331.97 L192.74,332.89 L198.33,333.73 L203.92,334.50 L209.51,335.20 L215.10,335.84 L220.69,336.43 L226.28,336.96 L231.87,337.45 L237.46,337.89 L243.05,338.29 L248.64,338.66 L254.23,339.00 L259.82,339.31 L265.41,339.59 L271.00,339.84" fill="none" stroke="#cc9418" stroke-width="1.4" stroke-linejoin="round"/>
<line x1="210.9" y1="236.4" x2="224.7" y2="236.4" stroke="#4a5cb0" stroke-width="1.3"/>
<path d="M214.9,233.9 h3.9 v5 h-3.9 Z M215.8,233.9 v5 M217.9,233.9 v5" fill="#4a5cb0" fill-opacity="0.35" stroke="#4a5cb0" stroke-width="0.6" opacity="0.8"/>
<text class="k" x="229" y="239.4" font-size="13.3" fill="#111">TM</text>
<line x1="210.9" y1="254.7" x2="224.7" y2="254.7" stroke="#cc9418" stroke-width="1.3"/>
<path d="M214.9,252.2 h3.9 v5 h-3.9 Z M215.8,252.2 v5 M217.9,252.2 v5" fill="#cc9418" fill-opacity="0.35" stroke="#cc9418" stroke-width="0.6" opacity="0.8"/>
<text class="k" x="229" y="258.0" font-size="13.3" fill="#111">TE</text>
<rect x="362.8" y="202.4" width="239.3" height="148.1" fill="none" stroke="#444" stroke-width="1"/>
<path d="M372.30,350.5 v-2 M372.30,202.4 v2 M381.88,350.5 v-2 M381.88,202.4 v2 M391.47,350.5 v-3 M391.47,202.4 v3 M401.06,350.5 v-2 M401.06,202.4 v2 M410.64,350.5 v-2 M410.64,202.4 v2 M420.23,350.5 v-2 M420.23,202.4 v2 M429.81,350.5 v-2 M429.81,202.4 v2 M439.40,350.5 v-3 M439.40,202.4 v3 M448.99,350.5 v-2 M448.99,202.4 v2 M458.57,350.5 v-2 M458.57,202.4 v2 M468.16,350.5 v-2 M468.16,202.4 v2 M477.74,350.5 v-2 M477.74,202.4 v2 M487.33,350.5 v-3 M487.33,202.4 v3 M496.92,350.5 v-2 M496.92,202.4 v2 M506.50,350.5 v-2 M506.50,202.4 v2 M516.09,350.5 v-2 M516.09,202.4 v2 M525.67,350.5 v-2 M525.67,202.4 v2 M535.26,350.5 v-3 M535.26,202.4 v3 M544.85,350.5 v-2 M544.85,202.4 v2 M554.43,350.5 v-2 M554.43,202.4 v2 M564.02,350.5 v-2 M564.02,202.4 v2 M573.60,350.5 v-2 M573.60,202.4 v2 M583.19,350.5 v-3 M583.19,202.4 v3 M592.78,350.5 v-2 M592.78,202.4 v2 M362.8,344.62 h2 M602.1,344.62 h-2 M362.8,338.73 h2 M602.1,338.73 h-2 M362.8,332.85 h2 M602.1,332.85 h-2 M362.8,326.96 h2 M602.1,326.96 h-2 M362.8,321.08 h3 M602.1,321.08 h-3 M362.8,315.20 h2 M602.1,315.20 h-2 M362.8,309.31 h2 M602.1,309.31 h-2 M362.8,303.43 h2 M602.1,303.43 h-2 M362.8,297.54 h2 M602.1,297.54 h-2 M362.8,291.66 h3 M602.1,291.66 h-3 M362.8,285.78 h2 M602.1,285.78 h-2 M362.8,279.89 h2 M602.1,279.89 h-2 M362.8,274.01 h2 M602.1,274.01 h-2 M362.8,268.12 h2 M602.1,268.12 h-2 M362.8,262.24 h3 M602.1,262.24 h-3 M362.8,256.36 h2 M602.1,256.36 h-2 M362.8,250.47 h2 M602.1,250.47 h-2 M362.8,244.59 h2 M602.1,244.59 h-2 M362.8,238.70 h2 M602.1,238.70 h-2 M362.8,232.82 h3 M602.1,232.82 h-3 M362.8,226.94 h2 M602.1,226.94 h-2 M362.8,221.05 h2 M602.1,221.05 h-2 M362.8,215.17 h2 M602.1,215.17 h-2 M362.8,209.28 h2 M602.1,209.28 h-2 M362.8,203.40 h3 M602.1,203.40 h-3 " stroke="#444" stroke-width="1" fill="none"/>
<text class="k" x="360.6" y="354.50" font-size="11.5" text-anchor="end" fill="#111">0</text>
<text class="k" x="360.6" y="325.08" font-size="11.5" text-anchor="end" fill="#111">100</text>
<text class="k" x="360.6" y="295.66" font-size="11.5" text-anchor="end" fill="#111">200</text>
<text class="k" x="360.6" y="266.24" font-size="11.5" text-anchor="end" fill="#111">300</text>
<text class="k" x="360.6" y="236.82" font-size="11.5" text-anchor="end" fill="#111">400</text>
<text class="k" x="360.6" y="207.40" font-size="11.5" text-anchor="end" fill="#111">500</text>
<text class="k" x="391.47" y="363.2" font-size="12" text-anchor="middle" fill="#111">1.5</text>
<text class="k" x="439.40" y="363.2" font-size="12" text-anchor="middle" fill="#111">2.0</text>
<text class="k" x="487.33" y="363.2" font-size="12" text-anchor="middle" fill="#111">2.5</text>
<text class="k" x="535.26" y="363.2" font-size="12" text-anchor="middle" fill="#111">3.0</text>
<text class="k" x="583.19" y="363.2" font-size="12" text-anchor="middle" fill="#111">3.5</text>
<text class="k" x="415.5" y="379.5" font-size="12.2" textLength="134.5" lengthAdjust="spacingAndGlyphs" fill="#111">Material refractive index n</text>
<text class="k" transform="translate(335.6,349.1) rotate(-90)" x="0" y="0" font-size="12" textLength="145" lengthAdjust="spacingAndGlyphs" fill="#111">Optimal disk thickness [nm]</text>
<line x1="386.68" y1="225" x2="386.68" y2="350.5" stroke="#a8a8a8" stroke-width="1" stroke-dasharray="3.4,2.3"/>
<line x1="439.40" y1="225" x2="439.40" y2="350.5" stroke="#a8a8a8" stroke-width="1" stroke-dasharray="3.4,2.3"/>
<line x1="573.60" y1="225" x2="573.60" y2="350.5" stroke="#a8a8a8" stroke-width="1" stroke-dasharray="3.4,2.3"/>
<text x="378.0" y="218.2" font-size="11.1" font-style="italic" fill="#5e5e5e" stroke="#5e5e5e" stroke-width="0.6">SiO</text>
<text x="395.4" y="218.4" font-size="7" font-style="italic" fill="#5e5e5e" stroke="#5e5e5e" stroke-width="0.5">2</text>
<text x="430.8" y="218.2" font-size="11.1" font-style="italic" fill="#5e5e5e" stroke="#5e5e5e" stroke-width="0.6">SiN</text>
<text x="555.2" y="218.2" font-size="11.1" font-style="italic" fill="#5e5e5e" stroke="#5e5e5e" stroke-width="0.6">Si/GaAs</text>
<path d="M386.68,232.82 L410.64,247.53 L439.40,259.30 L487.33,274.01 L535.26,285.78 L573.60,291.66" fill="none" stroke="#4a5cb0" stroke-width="1.6"/>
<path d="M385.48,231.62 h2.4 v2.4 h-2.4 Z M386.68,230.32 v5 M409.44,246.33 h2.4 v2.4 h-2.4 Z M410.64,245.03 v5 M438.20,258.10 h2.4 v2.4 h-2.4 Z M439.40,256.80 v5 M486.13,272.81 h2.4 v2.4 h-2.4 Z M487.33,271.51 v5 M534.06,284.58 h2.4 v2.4 h-2.4 Z M535.26,283.28 v5 M572.40,290.46 h2.4 v2.4 h-2.4 Z M573.60,289.16 v5 " fill="none" stroke="#4a5cb0" stroke-width="0.8" opacity="0.6"/>
<path d="M386.68,294.60 L410.64,312.25 L439.40,324.02 L487.33,332.85 L535.26,338.73 L573.60,341.67" fill="none" stroke="#cc9418" stroke-width="1.6"/>
<path d="M385.48,293.40 h2.4 v2.4 h-2.4 Z M386.68,292.10 v5 M409.44,311.05 h2.4 v2.4 h-2.4 Z M410.64,309.75 v5 M438.20,322.82 h2.4 v2.4 h-2.4 Z M439.40,321.52 v5 M486.13,331.65 h2.4 v2.4 h-2.4 Z M487.33,330.35 v5 M534.06,337.53 h2.4 v2.4 h-2.4 Z M535.26,336.23 v5 M572.40,340.47 h2.4 v2.4 h-2.4 Z M573.60,339.17 v5 " fill="none" stroke="#cc9418" stroke-width="0.8" opacity="0.6"/>
<line x1="492.8" y1="246.4" x2="504.4" y2="246.4" stroke="#4a5cb0" stroke-width="1.3"/>
<path d="M497.4,245.3 h2.2 v2.2 h-2.2 Z" fill="none" stroke="#4a5cb0" stroke-width="0.8" opacity="0.6"/>
<text class="k" x="508.2" y="248.8" font-size="11.9" fill="#111">TM</text>
<line x1="492.8" y1="262.2" x2="504.4" y2="262.2" stroke="#cc9418" stroke-width="1.3"/>
<path d="M497.4,261.09999999999997 h2.2 v2.2 h-2.2 Z" fill="none" stroke="#cc9418" stroke-width="0.8" opacity="0.6"/>
<text class="k" x="508.2" y="264.1" font-size="11.9" fill="#111">TE</text>
</svg></body></html>
